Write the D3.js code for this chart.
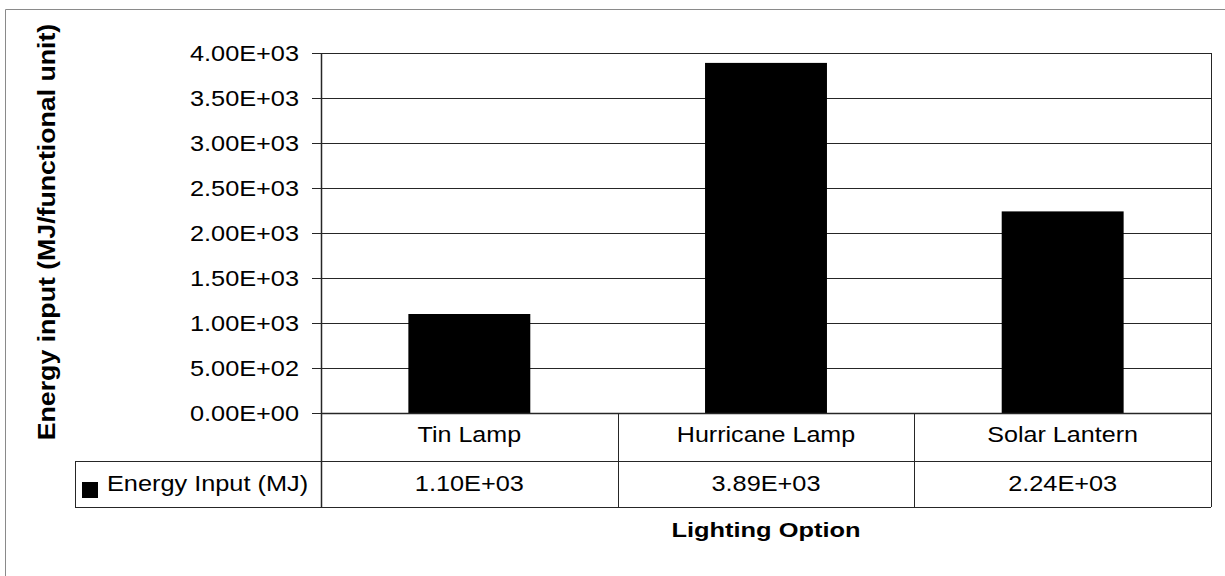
<!DOCTYPE html>
<html>
<head>
<meta charset="utf-8">
<script src="https://cdn.jsdelivr.net/npm/d3@7"></script>
<style>
  html, body { margin: 0; padding: 0; background: #fff; }
  svg { display: block; }
  text { font-family: "Liberation Sans", Arial, Helvetica, sans-serif; fill: #000; }
</style>
</head>
<body>
<script>
// Energy input per functional unit for each lighting option
const categories = ["Tin Lamp", "Hurricane Lamp", "Solar Lantern"];
const energyInput = [1100, 3890, 2240];
const seriesName = "Energy Input (MJ)";
const yTicks = [0, 500, 1000, 1500, 2000, 2500, 3000, 3500, 4000];
const yTitle = "Energy input (MJ/functional unit)";
const xTitle = "Lighting Option";

const W = 1225, H = 576;
const plot = { left: 321, right: 1211, top: 53, bottom: 413 };
const rowH = [48, 46];           // category row, value row of the data table
const legendLeft = 75;
const lineColor = "#262626";
const bodySize = 22;

// Excel-style scientific notation: 1.10E+03
function sci(v) {
  const [m, e] = v.toExponential(2).split("e");
  return m + "E" + e[0] + e.slice(1).padStart(2, "0");
}

// Widen glyphs to the horizontal proportions of the original chart font
function widen(sel, factor) {
  sel.each(function () {
    const w = this.getComputedTextLength();
    d3.select(this).attr("textLength", w * factor).attr("lengthAdjust", "spacingAndGlyphs");
  });
}

const svg = d3.select("body").append("svg").attr("width", W).attr("height", H);

// Outer chart frame (top and left edges are inside the canvas)
svg.append("path")
  .attr("d", `M5.5,${H} L5.5,9.5 L${W},9.5`)
  .attr("fill", "none").attr("stroke", "#8a8a8a").attr("stroke-width", 1);

const x = d3.scaleBand().domain(categories).range([plot.left, plot.right])
  .paddingInner(0.589).paddingOuter(0.2945);
const xCell = d3.scaleBand().domain(categories).range([plot.left, plot.right]);
const y = d3.scaleLinear().domain([0, 4000]).range([plot.bottom, plot.top]);

// Horizontal gridlines
svg.append("g").selectAll("line").data(yTicks.filter(d => d > 0)).join("line")
  .attr("x1", plot.left).attr("x2", plot.right)
  .attr("y1", d => Math.round(y(d)) + 0.5).attr("y2", d => Math.round(y(d)) + 0.5)
  .attr("stroke", lineColor).attr("stroke-width", 1);

// Bars
svg.append("g").selectAll("rect").data(categories).join("rect")
  .attr("x", d => x(d))
  .attr("width", x.bandwidth())
  .attr("y", (d, i) => y(energyInput[i]))
  .attr("height", (d, i) => y(0) - y(energyInput[i]))
  .attr("fill", "#000");

// Y axis with outside ticks
const yAxis = svg.append("g").attr("transform", `translate(${plot.left},0)`)
  .call(d3.axisLeft(y).tickValues(yTicks).tickFormat(sci).tickSize(9).tickPadding(13));
yAxis.select(".domain").remove();
yAxis.selectAll(".tick line").attr("stroke", lineColor);
yAxis.selectAll(".tick text")
  .attr("font-size", bodySize).attr("dy", "0.36em")
  .style("font-family", '"Liberation Sans", Arial, sans-serif').attr("fill", "#000")
  .call(widen, 1.15);

// Plot frame: left axis line, right edge, extended down through the data table
const tableBottom = plot.bottom + rowH[0] + rowH[1];
const g = svg.append("g").attr("stroke", lineColor).attr("fill", "none");
g.append("line").attr("x1", plot.left + 0.5).attr("x2", plot.left + 0.5)
  .attr("y1", plot.top).attr("y2", tableBottom).attr("stroke-width", 1.5);
g.append("line").attr("x1", plot.right + 0.5).attr("x2", plot.right + 0.5)
  .attr("y1", plot.top).attr("y2", tableBottom);
g.append("line").attr("x1", plot.left).attr("x2", plot.right)
  .attr("y1", plot.bottom + 0.5).attr("y2", plot.bottom + 0.5).attr("stroke-width", 1.5);

// Data table grid
const rowMid = plot.bottom + rowH[0];
g.append("line").attr("x1", legendLeft).attr("x2", plot.right)
  .attr("y1", rowMid + 0.5).attr("y2", rowMid + 0.5);
g.append("line").attr("x1", legendLeft).attr("x2", plot.right)
  .attr("y1", tableBottom + 0.5).attr("y2", tableBottom + 0.5);
g.append("line").attr("x1", legendLeft + 0.5).attr("x2", legendLeft + 0.5)
  .attr("y1", rowMid).attr("y2", tableBottom);
g.selectAll("line.div").data(categories.slice(1)).join("line").attr("class", "div")
  .attr("x1", d => Math.round(xCell(d)) + 0.5).attr("x2", d => Math.round(xCell(d)) + 0.5)
  .attr("y1", plot.bottom).attr("y2", tableBottom);

// Category labels
svg.append("g").selectAll("text").data(categories).join("text")
  .attr("x", d => xCell(d) + xCell.bandwidth() / 2)
  .attr("y", plot.bottom + 29)
  .attr("text-anchor", "middle").attr("font-size", bodySize)
  .text(d => d)
  .call(widen, 1.14);

// Value row
svg.append("g").selectAll("text").data(categories).join("text")
  .attr("x", d => xCell(d) + xCell.bandwidth() / 2)
  .attr("y", rowMid + 30)
  .attr("text-anchor", "middle").attr("font-size", bodySize)
  .text((d, i) => sci(energyInput[i]))
  .call(widen, 1.15);

// Legend key inside the data table
svg.append("rect").attr("x", 82).attr("y", rowMid + 21).attr("width", 16).attr("height", 16).attr("fill", "#000");
svg.append("text").attr("x", 107).attr("y", rowMid + 30)
  .attr("font-size", bodySize).text(seriesName)
  .call(widen, 1.15);

// Axis titles
svg.append("text")
  .attr("transform", "translate(55,232) rotate(-90)")
  .attr("text-anchor", "middle").attr("font-size", 23).attr("font-weight", "bold")
  .text(yTitle)
  .call(widen, 1.16);

svg.append("text")
  .attr("x", (plot.left + plot.right) / 2).attr("y", 537)
  .attr("text-anchor", "middle").attr("font-size", 20).attr("font-weight", "bold")
  .text(xTitle)
  .call(widen, 1.27);
</script>
</body>
</html>
